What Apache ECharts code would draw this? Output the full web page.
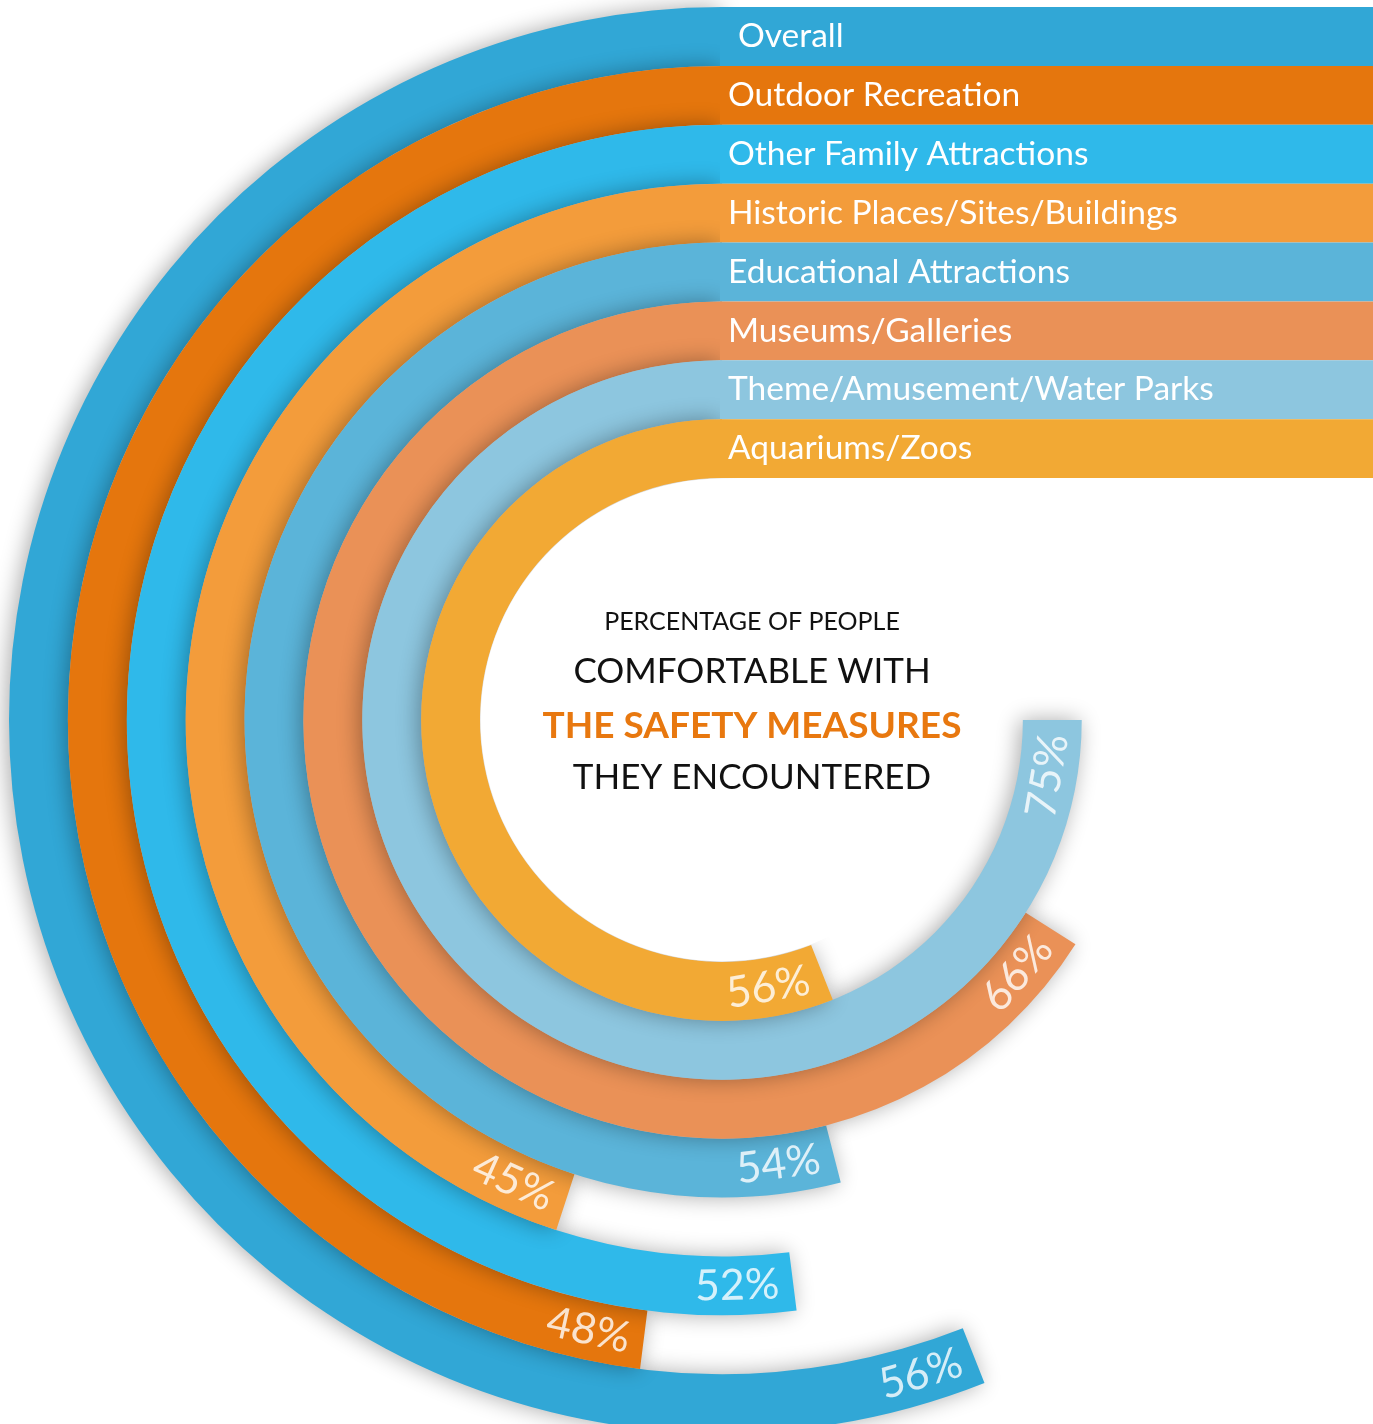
<!DOCTYPE html>
<html><head><meta charset="utf-8">
<script src="https://cdn.jsdelivr.net/npm/echarts@6/dist/echarts.min.js"></script>
<style>html,body{margin:0;padding:0;background:#fff;overflow:hidden}#c{width:1373px;height:1424px}</style>
</head><body><div id="c"></div>
<script>
// ---- data ----
const categories = ['Overall', 'Outdoor Recreation', 'Other Family Attractions', 'Historic Places/Sites/Buildings',
  'Educational Attractions', 'Museums/Galleries', 'Theme/Amusement/Water Parks', 'Aquariums/Zoos'];
const comfortPct = [56, 48, 52, 45, 54, 66, 75, 56];
const bandFull = [100, 100, 100, 100, 100, 100, 100, 100];
const titleLines = ['PERCENTAGE OF PEOPLE', 'COMFORTABLE WITH', 'THE SAFETY MEASURES', 'THEY ENCOUNTERED'];

// ---- style / layout ----
const colors = ['#31A7D6', '#E5760D', '#2FB9EA', '#F39C3B', '#5BB4D9', '#EA9157', '#8DC6DF', '#F2A934'];
const FONT = 'Lato, "Open Sans", sans-serif';
const CX = 722, CY = 720, R_IN = 242, R_OUT = 713;
const BAND = (R_OUT - R_IN) / categories.length;
const LABEL_BACK = 56;

const chart = echarts.init(document.getElementById('c'), null, { renderer: 'canvas' });

const ringData = comfortPct.map((v, i) => ({
  value: v,
  itemStyle: {
    color: colors[i],
    shadowBlur: 22,
    shadowOffsetX: -3,
    shadowColor: 'rgba(0,0,0,0.33)'
  }
}));

const labelData = comfortPct.map((v, i) => {
  const rMid = R_OUT - (i + 0.5) * BAND;
  const thetaDeg = v * 3.6 - (LABEL_BACK / rMid) * 180 / Math.PI;
  return {
    value: [categories[i], thetaDeg / 3.6],
    pct: v,
    label: { rotate: thetaDeg - 180 }
  };
});

const titleSpecs = [
  { size: 25, weight: 'normal', color: '#111', y: 622 },
  { size: 35, weight: 'normal', color: '#111', y: 672 },
  { size: 37, weight: 'bold', color: '#E8780F', y: 726 },
  { size: 35, weight: 'normal', color: '#111', y: 778 }
];

const option = {
  animation: false,
  backgroundColor: '#fff',
  title: titleLines.map((t, i) => ({
    text: t,
    left: 752,
    top: titleSpecs[i].y,
    textAlign: 'center',
    textVerticalAlign: 'middle',
    padding: 0,
    z: 10,
    textStyle: {
      fontFamily: FONT,
      fontSize: titleSpecs[i].size,
      fontWeight: titleSpecs[i].weight,
      color: titleSpecs[i].color
    }
  })),
  graphic: [{
    type: 'circle',
    shape: { cx: CX, cy: CY, r: R_IN - 0.5 },
    style: { fill: '#fff' },
    z: 3,
    silent: true
  }],
  polar: { center: [CX, CY], radius: [R_IN, R_OUT] },
  angleAxis: {
    type: 'value', min: 0, max: 100, startAngle: 90, clockwise: false,
    show: false
  },
  radiusAxis: {
    type: 'category', data: categories, inverse: true, show: false
  },
  grid: { left: 720, right: 0, top: 7, bottom: 1424 - 478 },
  xAxis: { type: 'value', min: 0, max: 100, show: false },
  yAxis: { type: 'category', data: categories, inverse: true, show: false },
  series: [
    {
      type: 'bar',
      coordinateSystem: 'polar',
      data: ringData,
      barCategoryGap: '0%',
      z: 2
    },
    {
      type: 'scatter',
      coordinateSystem: 'polar',
      data: labelData,
      symbolSize: 0,
      z: 5,
      label: {
        show: true,
        position: 'inside',
        formatter: p => p.data.pct + '%',
        color: '#fff',
        fontFamily: FONT,
        fontSize: 43
      }
    },
    {
      type: 'bar',
      data: bandFull.map((v, i) => ({
        value: v,
        itemStyle: { color: colors[i] },
        label: { distance: i === 0 ? 18 : 8 }
      })),
      barCategoryGap: '0%',
      z: 4,
      label: {
        show: true,
        position: 'insideLeft',
        distance: 8,
        formatter: p => p.name,
        color: '#fff',
        fontFamily: FONT,
        fontSize: 33.5
      }
    }
  ]
};
chart.setOption(option);
</script>
</body></html>
